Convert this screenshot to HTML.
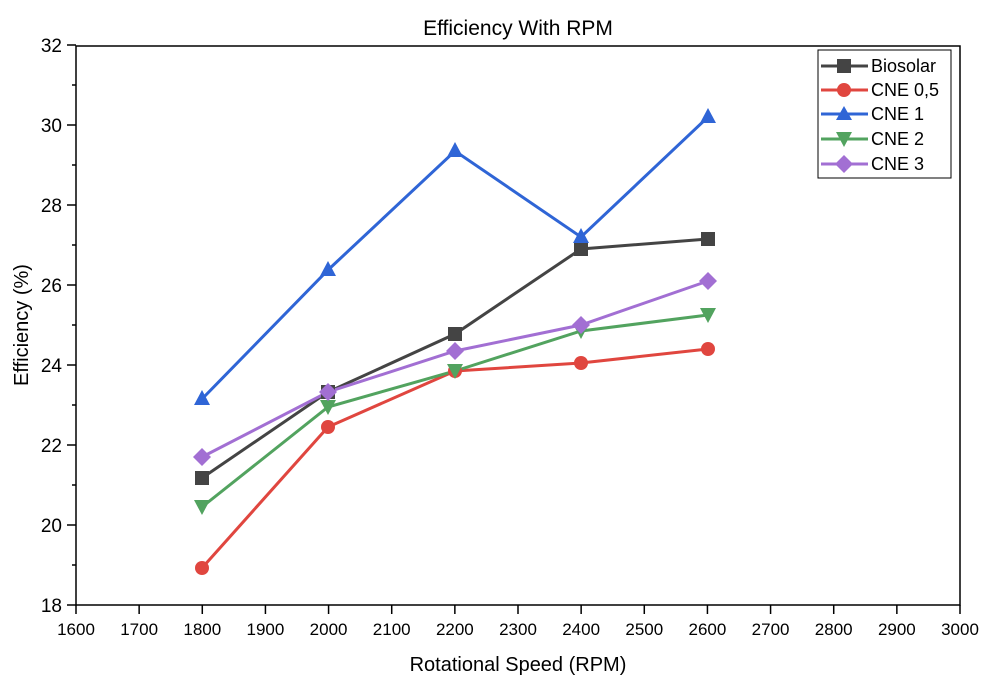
<!DOCTYPE html>
<html><head><style>body{margin:0;background:#fff}svg{display:block;font-family:"Liberation Sans",Arial,sans-serif}</style></head><body>
<svg width="992" height="684" viewBox="0 0 992 684" xmlns="http://www.w3.org/2000/svg">
<rect width="992" height="684" fill="#fff"/>
<text x="518" y="35" font-size="21" text-anchor="middle">Efficiency With RPM</text>
<rect x="76" y="46" width="884" height="559" fill="none" stroke="#000" stroke-width="1.5"/>
<g stroke="#000" stroke-width="1.5">
<line x1="67" y1="45" x2="76" y2="45"/><line x1="67" y1="125" x2="76" y2="125"/><line x1="67" y1="205" x2="76" y2="205"/><line x1="67" y1="285" x2="76" y2="285"/><line x1="67" y1="365" x2="76" y2="365"/><line x1="67" y1="445" x2="76" y2="445"/><line x1="67" y1="525" x2="76" y2="525"/><line x1="67" y1="605" x2="76" y2="605"/>
<line x1="72" y1="85" x2="76" y2="85"/><line x1="72" y1="165" x2="76" y2="165"/><line x1="72" y1="245" x2="76" y2="245"/><line x1="72" y1="325" x2="76" y2="325"/><line x1="72" y1="405" x2="76" y2="405"/><line x1="72" y1="485" x2="76" y2="485"/><line x1="72" y1="565" x2="76" y2="565"/>
</g>
<g font-size="19" text-anchor="end">
<text x="62" y="52">32</text><text x="62" y="132">30</text><text x="62" y="212">28</text><text x="62" y="292">26</text><text x="62" y="372">24</text><text x="62" y="452">22</text><text x="62" y="532">20</text><text x="62" y="612">18</text>
</g>
<g stroke="#000" stroke-width="1.5" id="xt"></g>
<g font-size="17" text-anchor="middle" id="xl"></g>
<text x="28" y="325" font-size="20" text-anchor="middle" transform="rotate(-90 28 325)">Efficiency (%)</text>
<text x="518" y="671" font-size="20" text-anchor="middle">Rotational Speed (RPM)</text>
<g stroke-width="3" fill="none">
<polyline stroke="#444" points="202,478 328,392 455,334 581,249 708,239"/>
<polyline stroke="#e0463f" points="202,568 328,427 455,371 581,363 708,349"/>
<polyline stroke="#2f65d6" points="202,399 328,270 455,151 581,237 708,117"/>
<polyline stroke="#52a35f" points="202,507 328,407 455,371 581,331 708,315"/>
<polyline stroke="#a26fd3" points="202,457 328,392 455,351 581,325 708,281"/>
</g>
<g id="mk"></g>
<rect x="818" y="50" width="133" height="128" fill="#fff" stroke="#000" stroke-width="1"/>
<g stroke-width="3">
<line x1="821" y1="66" x2="868" y2="66" stroke="#444"/>
<line x1="821" y1="90" x2="868" y2="90" stroke="#e0463f"/>
<line x1="821" y1="114" x2="868" y2="114" stroke="#2f65d6"/>
<line x1="821" y1="139" x2="868" y2="139" stroke="#52a35f"/>
<line x1="821" y1="164" x2="868" y2="164" stroke="#a26fd3"/>
</g>
<rect x="837" y="59" width="14" height="14" fill="#444"/>
<circle cx="844" cy="90" r="7" fill="#e0463f"/>
<polygon points="844,106 852,120 836,120" fill="#2f65d6"/>
<polygon points="836,132 852,132 844,147" fill="#52a35f"/>
<polygon points="844,155 853,164 844,173 835,164" fill="#a26fd3"/>
<g font-size="18">
<text x="871" y="72">Biosolar</text><text x="871" y="96">CNE 0,5</text><text x="871" y="120">CNE 1</text><text x="871" y="145">CNE 2</text><text x="871" y="170">CNE 3</text>
</g>
<script>
var ns="http://www.w3.org/2000/svg",xt=document.getElementById('xt'),xl=document.getElementById('xl'),mk=document.getElementById('mk');
function el(t,a,p){var e=document.createElementNS(ns,t);for(var k in a)e.setAttribute(k,a[k]);p.appendChild(e);return e;}
for(var v=1600;v<=3000;v+=100){var x=76+(v-1600)*884/1400;el('line',{x1:x,y1:605,x2:x,y2:614},xt);var t=el('text',{x:x,y:635},xl);t.textContent=v;}
var X=[202,328,455,581,708];
var S=[[478,392,334,249,239],[568,427,371,363,349],[399,270,151,237,117],[507,407,371,331,315],[457,392,351,325,281]];
var C=["#444","#e0463f","#2f65d6","#52a35f","#a26fd3"];
for(var s=0;s<5;s++)for(var i=0;i<5;i++){var x=X[i],y=S[s][i],c=C[s];
if(s==0)el('rect',{x:x-7,y:y-7,width:14,height:14,fill:c},mk);
else if(s==1)el('circle',{cx:x,cy:y,r:7,fill:c},mk);
else if(s==2)el('polygon',{points:(x)+','+(y-9)+' '+(x+8)+','+(y+6)+' '+(x-8)+','+(y+6),fill:c},mk);
else if(s==3)el('polygon',{points:(x-8)+','+(y-7)+' '+(x+8)+','+(y-7)+' '+x+','+(y+8),fill:c},mk);
else el('polygon',{points:x+','+(y-9)+' '+(x+9)+','+y+' '+x+','+(y+9)+' '+(x-9)+','+y,fill:c},mk);}
</script>
</svg>
</body></html>
